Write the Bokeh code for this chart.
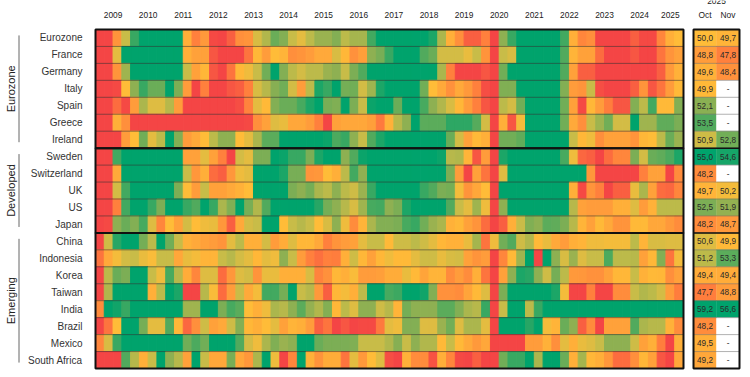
import numpy as np
from bokeh.plotting import figure
from bokeh.embed import file_html
from bokeh.resources import INLINE
from bokeh.models import ColumnDataSource, Range1d
from bokeh.core.properties import value

FONT = "Liberation Sans"
countries = ["Eurozone","France","Germany","Italy","Spain","Greece","Ireland","Sweden","Switzerland","UK","US","Japan",
             "China","Indonesia","Korea","Taiwan","India","Brazil","Mexico","South Africa"]
groups = [("Eurozone",0,7),("Developed",7,12),("Emerging",12,20)]
years = list(range(2009,2026))
side_headers = ["Oct","Nov"]
side_year = "2025"

eurozone = [44,44,48.5,51,54,56,56,56,56,56,49.5,47.8,48.7,46.5,46,47,48.3,48.5,50.7,51.4,53,52.3,51,50.5,51.2,51.8,51.8,52.3,51.2,51.6,51.6,53.8,56,56,56,56,56,56,54.5,51.5,49.5,48.3,47,47,47.8,45,52,54,56,56,56,56,56,53.8,49.5,48,48.3,46,46,46,46,47,46.5,46.5,48,49.5,50]
france = [44,44,50.5,56,56,56,56,56,56,56,49.5,49,49,46.8,46.2,46,46,47.5,49.8,48.8,50,49.7,48.3,48.5,48.8,49.3,49.3,50.7,49.8,48.4,48.9,52,52.6,54,55.5,55.5,55.5,53.5,53,50.8,50.8,50.8,50.4,51,48.5,45.5,51,50.7,55.5,55.5,55.5,55.5,55.5,53.5,49.7,49,49,47.3,46.3,46.3,46.3,46.8,46.3,46.3,47.5,48.5,49]
germany = [44,44,48.5,51.7,56,56,56,56,56,56,51,49,49.8,46.8,46.2,47.5,49.8,50.3,51,52.8,55.5,52.3,51.2,50.8,51.2,51.2,51.8,52,51,52.5,53.5,56,56,56,56,56,56,56,56,51.5,47.8,45.5,45.5,45.5,46.8,45.5,52.8,56,56,56,56,56,56,53.5,49,47,47,45.5,45.5,45.5,45.5,45.5,45.5,45.5,47,48.7,49.6]
italy = [44,44,46.5,50,52,54,53,53,55.5,52.5,48.8,46.3,47.8,46,46,46.8,47,47.8,50.7,51.3,52.2,52.8,50.8,48.8,51.2,54.5,54,56,52.7,52.8,50.8,51.7,54.5,55.7,55.7,55.7,55.7,52.8,50,49.3,48.4,49.3,48.7,47.8,46.6,45.5,52.4,52.4,55.8,55.8,55.8,55.8,55.8,52.3,48.8,48.5,51,46.6,46,46,46,47,48.5,46.8,47.5,48.8,49.9]
spain = [44,44,47.3,46.5,48.8,51.5,50.6,50.6,51.3,48.8,45.5,45.5,45.5,45.5,45.5,45.5,46.6,47.9,50.5,49.9,52.3,53,53,53.7,54.5,55.7,52.6,52.4,55,52.5,51,54.8,55.2,55.2,53,56,56,53.7,52,51.4,50.7,49.8,48.8,47.8,46.8,45.5,51.2,50.8,52.8,56,56,56,56,52.8,49,46.5,49.8,48.8,47.7,46.8,46.8,52.3,51.2,53.8,49.9,49.9,52.3]
greece = [44,44,49.5,48.3,45.5,45.5,45.5,45.5,45.5,46.3,45.5,45.5,45.5,45.5,45.5,45.5,45.5,46.5,48.3,49,50.6,50.4,49.2,49.2,48.8,47.8,45.3,49,49.2,49.2,49.2,48.9,47.6,49.6,51.3,52,55,53.3,53.3,53.3,54.2,54.2,54.2,53.4,50.8,45.3,49.5,46.8,50.2,55.5,55.5,55.5,55.5,52.8,49.3,48.3,51,51.7,52.8,50.8,50.8,55.5,51.7,51.7,53.2,53.2,52.5]
ireland = [45.5,45.5,45.5,48.8,50,52.8,50.5,51.2,55.5,52.3,48.8,49.3,50,51.2,52,52,50,50.5,51.5,53.3,53.3,55.5,55.5,55.5,55.5,55.5,54.8,53.6,54,52,51,53.5,54.5,55.5,55.5,55.5,55.5,55.5,55.5,55.5,53,50.8,49,49.9,49.5,45.5,52.8,52.8,53.2,55.5,55.5,55.5,55.5,55.5,51,49.8,50.3,48.3,49,49,49,48.5,49.8,50,51.2,53,51.8]
sweden = [44,44,53.8,56,56,56,56,56,56,56,49,49,50.5,49,47.8,45.8,50.8,50.5,52.5,52.5,55,54.8,54,54,52.5,54.5,55.5,55.5,52,53.5,54.8,55.8,55.8,55.8,55.8,55.8,55.8,55.8,55.8,54.8,51.3,51.4,49.7,46.8,48.8,45.5,54.5,55.7,55.7,55.7,55.7,55.7,55.7,53.7,50.3,47.2,47,45.8,47.3,48,48,52.5,50.8,53,53.2,53.6,54.5]
switzerland = [44,44,49.3,56,56,56,56,56,56,56,51,48.6,49.5,47.3,47,48.6,50.3,50.5,55.5,55.5,55.5,54.5,52.6,52.6,48.5,48.6,50,49.5,51.2,53.8,52,55.7,55.7,55.7,55.7,55.7,55.7,55.7,55.7,55.7,52.5,48.8,45.8,49,47.5,45.5,50.6,55.8,55.8,55.8,55.8,55.8,55.8,55.8,55.8,55.8,48.6,45.5,45.5,45.5,45.5,45.5,47.8,49,49,46,48.2]
uk = [44,44,50.8,53.8,56,56,56,56,56,52.5,50,48.8,51,49,49,49.3,49.6,50,55.5,55.5,55.5,55.5,52.5,52,52.7,51.5,51.2,52,51.2,50.9,51.8,54,55,55.5,55.5,55.5,55.5,54,53.5,52.5,52.7,50.2,48.5,49.2,50,45.5,55,56,56,56,56,56,56,55,49.5,46.5,48.5,47.8,45.5,47,47,50.4,51.5,49,47.3,47.2,48]
us = [44,44,47.8,53.8,55,55,54,52.5,55.5,55,54,53.5,55,54,51.5,52.4,55.5,52.6,51.4,53.5,55.5,55.5,55.5,55.5,55.5,54.3,52.7,52,51.3,50.7,51.7,53.7,53.8,52,52.5,54.5,55.8,55.8,55.8,55.8,53.5,51,50.5,51.7,50.3,45.5,52,55.8,55.8,55.8,55.8,55.8,55.8,55.8,51.3,49,48.8,48.8,48.8,49.5,49.5,50.6,48.8,49.6,51.2,51.2,51.2]
japan = [46,46.5,52,53,52.3,53.7,50.6,48,50,49,50.8,50,50.3,50.4,48.6,47,49.3,50.8,51,55,55,50,51,51.3,51,50,50.7,52,50.3,48.2,49.7,51.5,52.3,52.3,52.5,53.7,54,52.8,51.8,51.5,49.6,49.8,49,48.5,47.3,45.5,47,49.5,51,52.4,52,53.3,53.2,52.5,51.3,49.7,49,49.9,49.3,48.5,48.5,49.9,49.9,49.2,49.2,48.7,48.2]
china = [46,50.9,54.3,56,56,52.7,51.2,55.8,52.8,51,49.6,49.3,49,48.8,48.5,50.5,51.2,49.5,49.5,50.8,48.8,49.4,50.6,49.8,49.8,49.3,47.8,48.5,48.8,49,50.5,51,51,49.9,50.9,50.9,51.2,50.9,50.5,49.8,49.6,49.6,50.4,51.6,47.5,50.3,52.8,53.5,50.9,51.4,49.9,50.4,49.3,48.8,49.5,49.7,50.3,50.3,50.2,50.2,50.2,51.2,49.7,50.7,50.7,50.6,50.6]
indonesia = [47.5,49.3,50.2,50.8,51,50.4,50.1,51,51,49.2,50.4,50.2,49.7,49.7,51,51.3,50.8,50.5,49.8,50.5,50.3,52,51,48.8,47.8,47.4,47.8,47.7,49.5,50.9,49.8,49,49.8,50.3,49.9,49.9,50.5,50.9,50.9,50.4,50.7,50.8,49,48.5,48.8,45.5,48,49.9,51.7,55,45.5,55.5,52,50.7,51.8,50.6,51,51,53.6,51.2,51.2,51.3,49,49.8,52.3,47.5,50.2]
korea = [46,51.2,53,52.5,55.8,55.8,51,50.3,53.7,51.3,49.4,48,50.6,50.6,47.3,48.6,50.6,50.8,48.5,50.4,50.4,49.5,49.5,49.5,50.7,47.9,48.4,49.8,49.5,50.1,48.8,48.8,48.9,49.4,49.4,50.4,49.9,49.1,49.7,49.7,48.2,48.8,48.2,49.5,47.5,45.5,49,52,54.5,54.3,52,50.9,52.7,51.2,48.7,48.6,48.4,48.4,49,49.8,49.8,51,49.6,49.9,49.8,48.3,49]
taiwan = [46,51.4,56,56,56,56,49.5,51.2,55.5,54.5,45.5,45.5,51.3,50.1,47.3,48.8,51,49.3,50.2,53.8,53.8,52.7,55.7,51,51.3,48.7,47,49.8,50.2,49.5,51.2,55,55,53.7,53.9,56,56,54.7,52.3,48.4,48.4,48.2,49.1,49.9,50.6,45.5,52.5,55.7,55.7,55.7,55.7,55.7,54.5,50.2,45.5,45.5,47.8,46.3,46.2,48.2,48.2,51,51.4,51.2,50.8,48.8,47.7]
india = [48.2,55,54.7,54,55.8,55.8,55.8,55.8,55.8,55.8,51.7,51.7,55.8,55.8,52.5,53.7,53.3,50,49.5,50.3,51.5,51.3,52,53.3,51.9,51.4,52.3,49.8,51.2,50.6,52,52,50.9,51.3,49.7,52.7,52,52,52,53.3,53.3,52.3,51.5,51.3,54,45.5,51,55.5,55.5,51.2,54,55.8,55,55,55.9,55.9,55.9,55.9,55.9,55.9,55.9,55.9,55.9,55.9,55.9,55.9,55.9]
brazil = [45.8,47.5,50,56,56,52.7,50.5,50.5,53.5,49.8,47.2,48.3,50.9,49,49.3,50.9,52.3,49.8,49.5,50,50.5,49,49.7,49.5,48.8,47,47.5,45.8,46.8,45.8,46.5,46.5,47.6,50.5,50.3,52.3,52.3,50.6,50.6,51.8,52.8,50.6,51.5,51.5,50.5,45.5,55.7,55.7,55.7,54.3,55.5,50.2,49.7,53,52,47,48.2,45.8,49,49,49,53.5,51.5,51.3,51.3,49.6,48.2]
mexico = [48,50.7,54,55.7,55.7,55.7,55.7,55.7,55.7,55.7,52.8,53.6,52.8,55.6,55.6,55.6,53.5,50.8,50.3,51.5,52.4,51.8,52,55,56,53,52.5,52.5,52.5,52.4,51,51,51,51.4,52.2,51,52,51.4,51.4,49.9,51,49.9,49.3,48.7,49.2,45.5,45.5,45.5,45.5,48.8,48.8,49.6,48.3,50.5,49.5,50.4,50.6,51,52,52,52,50.9,49,49.5,47.7,46,49.5]
south_africa = [45.5,45.5,45.5,53.5,51.3,49.5,51,55.5,52,51.3,49,55.5,51,49.2,49.2,52.6,49.2,48.6,51.5,55,50.3,46.3,48,55,49.6,48.5,49.4,49.4,47.5,50.5,48.7,50,50.6,46.6,45.7,49.6,48.2,48.2,46.7,49.5,48,46.5,46,47,45.5,45.5,52.8,54,54,55.5,51.5,55.5,55.5,53,49.5,51.6,49.8,49.5,48.6,47.3,47.3,48.3,49.8,49,46.8,45.9,49.2]
rows = [eurozone,france,germany,italy,spain,greece,ireland,sweden,switzerland,uk,us,japan,china,indonesia,korea,taiwan,india,brazil,mexico,south_africa]

oct_values = [50.0,48.8,49.6,49.9,52.1,53.5,50.9,55.0,48.2,49.7,52.5,48.2,50.6,51.2,49.4,47.7,59.2,48.2,49.5,49.2]
nov_values = [49.7,47.8,48.4,None,None,None,52.8,54.6,None,50.2,51.9,48.7,49.9,53.3,49.4,48.8,56.6,None,None,None]

color_stops = [46.4,47.7,48.2,50,51,52,53,54,55]
color_rgb = [(244,69,69),(255,125,61),(255,140,60),(255,188,56),(200,188,72),(142,176,82),(106,173,88),(56,168,98),(0,163,108)]

def to_color(v):
    if v is None:
        return "#ffffff"
    c = [int(round(np.interp(v, color_stops, [k[i] for k in color_rgb]))) for i in range(3)]
    return "#%02x%02x%02x" % tuple(c)

PX_COL = 588 / 67      # px per quarter
PX_ROW = 339 / 20      # px per row
W, H = 745, 372
X0 = 95                # screen x of the first quarter
Y0 = 29                # screen y of the first row

def px_x(px):
    return (px - X0) / PX_COL

def px_y(px):
    return (px - Y0) / PX_ROW

p = figure(width=W, height=H, output_backend="svg", toolbar_location=None,
           x_range=Range1d(px_x(0), px_x(W)), y_range=Range1d(px_y(H), px_y(0)),
           min_border_left=0, min_border_top=0, min_border_right=0, min_border_bottom=0,
           x_axis_location=None, y_axis_location=None, margin=(0, 0, 0, 0))
p.grid.visible = False
p.outline_line_color = None
p.background_fill_color = None
p.border_fill_color = None

ncol = len(eurozone)
sx0 = px_x(693)
sw = 23 / PX_COL

xs, ys, cs = [], [], []
for r, row in enumerate(rows):
    for c, v in enumerate(row):
        xs.append(c); ys.append(r); cs.append(to_color(v))
src = ColumnDataSource(dict(l=xs, r=[x + 1 for x in xs], t=ys, b=[y + 1 for y in ys], c=cs))
p.quad(left="l", right="r", top="t", bottom="b", fill_color="c", line_color="c", line_width=1, source=src)

sl, sr, st, sb, sc, tx, ty, tt = [], [], [], [], [], [], [], []
for i, vals in enumerate([oct_values, nov_values]):
    for r, v in enumerate(vals):
        sl.append(sx0 + i * sw); sr.append(sx0 + (i + 1) * sw); st.append(r); sb.append(r + 1)
        sc.append(to_color(v))
        tx.append(sx0 + (i + .5) * sw); ty.append(r + .5)
        tt.append("-" if v is None else f"{v:.1f}".replace(".", ","))
p.quad(left=sl, right=sr, top=st, bottom=sb, fill_color=sc, line_color=sc, line_width=0.4)
p.text(x=tx, y=ty, text=tt, text_align="center", text_baseline="middle", text_color="#2a2a2a",
       text_font=value(FONT), text_font_size="8.2px")

# thin row separators
sep = [r for r in range(1, len(rows)) if r not in (g[1] for g in groups)]
p.segment(x0=[0] * len(sep), x1=[ncol] * len(sep), y0=sep, y1=sep, line_color="#333333", line_alpha=0.55, line_width=1)
p.segment(x0=[sx0] * 19, x1=[sx0 + 2 * sw] * 19, y0=list(range(1, 20)), y1=list(range(1, 20)),
          line_color="#666666", line_alpha=0.5, line_width=1)
# group frames
for _, a, b in groups:
    p.quad(left=0, right=ncol, top=a, bottom=b, fill_color=None, line_color="#111111", line_width=2)
p.quad(left=sx0, right=sx0 + 2 * sw, top=0, bottom=len(rows), fill_color=None, line_color="#111111", line_width=2)
p.segment(x0=[sx0] * 2, x1=[sx0 + 2 * sw] * 2, y0=[7, 12], y1=[7, 12], line_color="#111111", line_width=1.5)

# year and month headers
ticks_x = [min(4 * (y - 2009) + 2, 64 + 1.5) for y in years] + [sx0 + .5 * sw, sx0 + 1.5 * sw]
labels_x = [str(y) for y in years] + side_headers
p.text(x=ticks_x, y=[px_y(14)] * len(ticks_x), text=labels_x, text_align="center", text_baseline="middle",
       text_font=value(FONT), text_font_size="8.4px", text_color="#222222")
p.text(x=[sx0 + sw], y=[px_y(0.5)], text=[side_year], text_align="center", text_baseline="middle",
       text_font=value(FONT), text_font_size="8.4px", text_color="#222222")

# row labels
p.text(x=[px_x(82)] * len(countries), y=[r + .5 for r in range(len(countries))], text=countries,
       text_align="right", text_baseline="middle", text_font=value(FONT), text_font_size="10px", text_color="#333333")

# group labels and rules
p.text(x=[px_x(10)] * 3, y=[(g[1] + g[2]) / 2 for g in groups], text=[g[0] for g in groups], angle=np.pi / 2,
       text_align="center", text_baseline="middle", text_font=value(FONT), text_font_size="11px", text_color="#222222")
pad = 0.35
p.segment(x0=[px_x(18.5)] * 3, x1=[px_x(18.5)] * 3, y0=[g[1] + pad for g in groups], y1=[g[2] - pad for g in groups],
          line_color="#666666", line_width=1)

open("out.html", "w").write(file_html(p, INLINE))
